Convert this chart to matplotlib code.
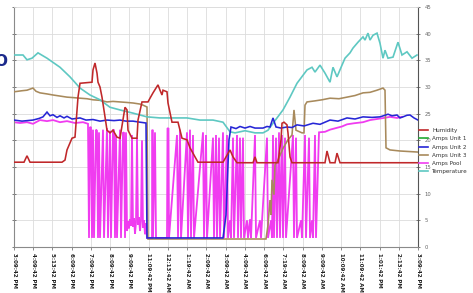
import matplotlib
matplotlib.use("Agg")
import matplotlib.pyplot as plt
import numpy as np
from matplotlib.lines import Line2D

# ---- data (x = logger sample index, y = reading) ----
tick_labels = ["3:09:42 PM", "4:09:42 PM", "5:13:42 PM", "6:09:42 PM", "7:09:42 PM",
               "8:09:42 PM", "9:09:42 PM", "11:09:42 PM", "12:13:42 AM", "1:19:42 AM",
               "2:09:42 AM", "3:09:42 AM", "4:09:42 AM", "6:09:42 AM", "7:19:42 AM",
               "8:09:42 AM", "9:09:42 AM", "10:09:42 AM", "11:09:42 AM", "1:01:42 PM",
               "2:13:42 PM", "3:09:42 PM"]
n_samples = 404

humidity = [(0,15.9),(10,15.9),(13,17.1),(16,15.9),(48,15.9),(51,16.3),(53,18.2),(58,20.4),(61,20.6),
            (64,28.1),(66,30.7),(78,30.9),(79,33.2),(81,34.5),(83,32.6),(84,30.9),(86,30.0),(88,28.1),
            (91,24.4),(93,21.9),(96,21.4),(99,21.9),(103,20.6),(106,20.4),(111,26.2),(113,25.7),(114,21.9),
            (118,20.4),(123,20.4),(124,23.8),(128,27.2),(134,27.2),(136,27.9),(139,28.9),(144,30.4),
            (146,29.4),(148,28.5),(149,29.4),(153,29.1),(154,27.0),(158,23.4),(164,23.4),(168,20.4),
            (173,20.1),(176,18.6),(181,16.9),(184,15.9),(209,15.9),(213,17.2),(216,18.2),(219,16.9),
            (223,15.8),(239,15.8),(241,16.9),(243,15.8),(264,15.8),(267,20.1),(268,23.2),(270,23.4),
            (273,22.9),(274,21.4),(276,16.9),(278,15.8),(311,15.8),(313,18.0),(316,15.8),(321,15.8),
            (323,17.6),(326,15.8),(404,15.8)]

amps_unit1 = []

amps_unit2 = [(0,23.8),(8,23.6),(19,23.8),(25,24.1),(29,24.4),(33,25.3),(36,24.6),(39,24.8),(43,24.3),
              (46,24.6),(50,24.2),(53,24.5),(58,24.0),(66,24.2),(72,23.8),(79,23.9),(86,23.6),(93,23.8),
              (100,23.7),(106,23.8),(112,23.6),(119,23.6),(126,23.4),(132,23.25),(133,1.7),(209,1.7),
              (212,6.0),(215,20.1),(217,22.5),(222,22.2),(226,22.6),(231,22.3),(236,22.6),(241,22.3),
              (249,22.3),(253,22.6),(256,22.5),(259,24.2),(262,22.5),(267,22.3),(273,22.5),(278,22.4),
              (283,22.9),(290,22.7),(299,23.2),(306,23.0),(316,23.8),(324,23.6),(333,24.2),(341,24.0),
              (349,24.4),(358,24.3),(366,24.4),(371,24.7),(374,24.9),(378,24.6),(383,24.75),(386,24.2),
              (389,24.4),(393,24.7),(396,24.75),(400,24.2),(404,23.8)]

amps_unit3 = [(0,29.1),(8,29.3),(13,29.4),(19,29.8),(22,29.2),(26,28.9),(33,28.7),(39,28.5),(46,28.3),
              (53,28.1),(60,28.0),(66,27.9),(73,27.8),(79,27.6),(86,27.5),(93,27.2),(99,27.3),(106,27.2),
              (113,27.1),(119,27.0),(126,26.8),(129,26.6),(133,26.25),(134,1.5),(252,1.5),(254,4.1),
              (256,8.8),(257,6.0),(258,12.6),(260,9.8),(261,15.4),(264,16.3),(269,18.5),(274,20.1),
              (278,21.0),(280,25.7),(282,21.9),(288,21.4),(290,21.4),(291,26.6),(293,27.2),(301,27.4),
              (308,27.6),(316,27.9),(325,27.8),(333,28.1),(341,28.4),(349,28.9),(356,29.0),(363,29.4),
              (369,29.8),(371,29.4),(372,18.6),(376,18.2),(386,18.0),(395,17.9),(404,17.8)]

amps_pool = [(0,23.4),(6,23.25),(13,23.4),(19,23.1),(26,23.8),(33,23.6),(39,23.8),(46,23.4),(53,23.6),
             (61,23.25),(69,23.4),(74,23.1),
             (75,1.7),(76,22.5),(77,22.4),(78,1.7),(79,22.0),(80,1.7),(82,22.0),(83,21.8),(84,1.7),
             (85,21.5),(86,1.7),(89,22.0),(90,1.7),(93,22.3),(94,1.7),(96,21.8),(97,1.7),(99,22.0),
             (100,21.9),(101,1.7),(102,21.0),(103,1.7),(106,22.0),(107,1.7),(109,21.5),(110,21.4),
             (111,1.7),(112,21.5),(113,3.0),
             (114,4.8),(115,3.5),(116,5.2),(117,4.0),(118,21.0),(119,3.8),(120,5.4),(121,2.5),(122,4.6),
             (123,20.5),(124,4.2),(125,5.6),(126,3.0),(127,4.9),(128,20.0),(129,3.6),(130,5.0),(131,2.4),
             (132,4.4),(133,1.7),
             (138,1.7),(138.5,22.0),(139,1.7),(141,21.5),(142,1.7),(153,1.7),(153.5,22.3),(154.5,22.2),
             (155,1.7),(163,21.0),(164,1.7),(166,22.0),(167,1.7),(173,21.5),(174,1.7),(176,22.0),(177,1.7),
             (179,21.0),(180,1.7),(189,21.5),(190,1.7),(192,21.0),(193,1.7),(199,20.5),(200,1.7),
             (202,21.0),(203,1.7),(205,20.5),(206,1.7),(209,21.5),(210,1.7),(213,21.0),(214,1.7),
             (216,5.0),(217,1.7),(219,20.5),(220,1.7),(223,21.0),(224,1.7),(226,20.5),(227,1.7),
             (229,20.5),(230,1.7),(233,5.0),(234,1.7),(236,5.2),(237,1.7),(241,21.0),(242,1.7),
             (246,5.0),(247,1.7),(253,20.5),(254,1.7),(257,5.0),(258,1.7),(259,21.0),(260,1.7),
             (262,20.5),(263,1.7),(265,21.5),(266,1.7),(268,21.0),(269,1.7),(271,20.5),(272,1.7),
             (279,21.0),(280,1.7),(282,20.5),(283,1.7),(287,5.0),(288,1.7),(291,21.0),(292,1.7),
             (295,20.5),(296,1.7),(298,5.0),(299,1.7),(301,21.0),(302,1.7),(305,21.5),
             (311,21.6),(316,22.0),(322,22.3),(328,22.6),(333,23.0),(340,23.2),(349,23.4),(356,23.8),
             (363,24.0),(370,24.2),(376,24.4),(383,24.2),(388,24.4)]

temperature = [(0,36.0),(9,36.0),(13,35.1),(18,35.4),(24,36.4),(33,35.4),(46,33.7),(56,31.9),(66,29.8),
               (76,28.5),(86,27.6),(96,26.2),(106,25.7),(119,25.1),(133,24.4),(146,24.2),(159,24.2),
               (173,24.2),(186,23.8),(199,23.8),(209,23.4),(216,21.6),(221,21.4),(231,21.8),(241,21.4),
               (249,21.4),(254,21.9),(259,23.2),(269,25.7),(276,28.1),(283,30.7),(293,33.2),(298,33.7),
               (301,32.8),(306,34.1),(311,32.6),(316,30.9),(319,33.7),(323,31.9),(328,34.1),(331,35.4),
               (336,36.4),(339,37.3),(344,38.4),(349,39.4),(351,38.8),(354,40.1),(356,38.8),(359,39.7),
               (363,40.1),(366,38.2),(369,35.4),(371,36.9),(374,35.4),(379,35.6),(384,38.4),(388,36.0),
               (393,36.6),(398,35.4),(403,36.0)]

series_names = ["Humidity", "Amps Unit 1", "Amps Unit 2", "Amps Unit 3", "Amps Pool", "Temperature"]
series_colors = ["#c0282a", "#22aa33", "#2626d6", "#a88a5c", "#f03cf0", "#5ec8c2"]
y_ticks = [0, 5, 10, 15, 20, 25, 30, 35, 40, 45]

# ---- figure ----
W, H = 473, 293
fig = plt.figure(figsize=(W/100, H/100), dpi=100)
fig.patch.set_facecolor("white")
ax = fig.add_axes([14/W, 1-247/H, (418-14)/W, (247-7)/H])

data = [humidity, amps_unit1, amps_unit2, amps_unit3, amps_pool, temperature]
zorders = [7, 3, 6, 4, 2, 5]
widths = [1.15, 1.15, 1.15, 1.15, 1.3, 1.2]
for d, c, z, w in zip(data, series_colors, zorders, widths):
    if d:
        xs, ys = zip(*d)
        ax.plot(xs, ys, color=c, lw=w, zorder=z, solid_joinstyle="miter")

ax.set_xlim(0, n_samples)
ax.set_ylim(0, 45)
xt = np.linspace(0, n_samples, len(tick_labels))
ax.set_xticks(xt)
ax.set_xticklabels(tick_labels, rotation=-90, fontsize=4, fontweight="bold",
                   color="#222222", va="top", ha="center")
ax.set_yticks(y_ticks)
ax.yaxis.tick_right()
ax.set_yticklabels([str(v) for v in y_ticks], fontsize=3.8, color="#666666")
ax.tick_params(axis="y", which="both", direction="inout", length=3, width=0.6,
               colors="#666666", left=True, right=True, pad=3)
ax.tick_params(axis="x", direction="out", length=2.5, width=0.6, colors="#777777", pad=2)
for lbl in ax.get_xticklabels():
    lbl.set_color("#222222")
for lbl in ax.get_yticklabels():
    lbl.set_color("#666666")

ax.grid(True, color="#dcdcdc", lw=0.6, zorder=0)
ax.set_axisbelow(True)
for s in ["left", "bottom"]:
    ax.spines[s].set_color("#8a8a8a")
    ax.spines[s].set_linewidth(0.8)
ax.spines["right"].set_color("#555555")
ax.spines["right"].set_linewidth(0.8)
ax.spines["top"].set_color("#dddddd")
ax.spines["top"].set_linewidth(0.6)

handles = [Line2D([0], [0], color=c, lw=1.2) for c in series_colors]
fig.legend(handles, series_names, loc="upper left",
           bbox_to_anchor=(417/W, 1-126/H), frameon=False, fontsize=4.1,
           handlelength=1.5, handletextpad=0.8, labelspacing=0.55, borderaxespad=0,
           labelcolor="#333333")

fig.text(-6/W, 1-62/H, "O", color="#1c2a8c", fontsize=11, fontweight="bold",
         va="center", ha="left")

fig.savefig("out.png", dpi=100, facecolor="white")
